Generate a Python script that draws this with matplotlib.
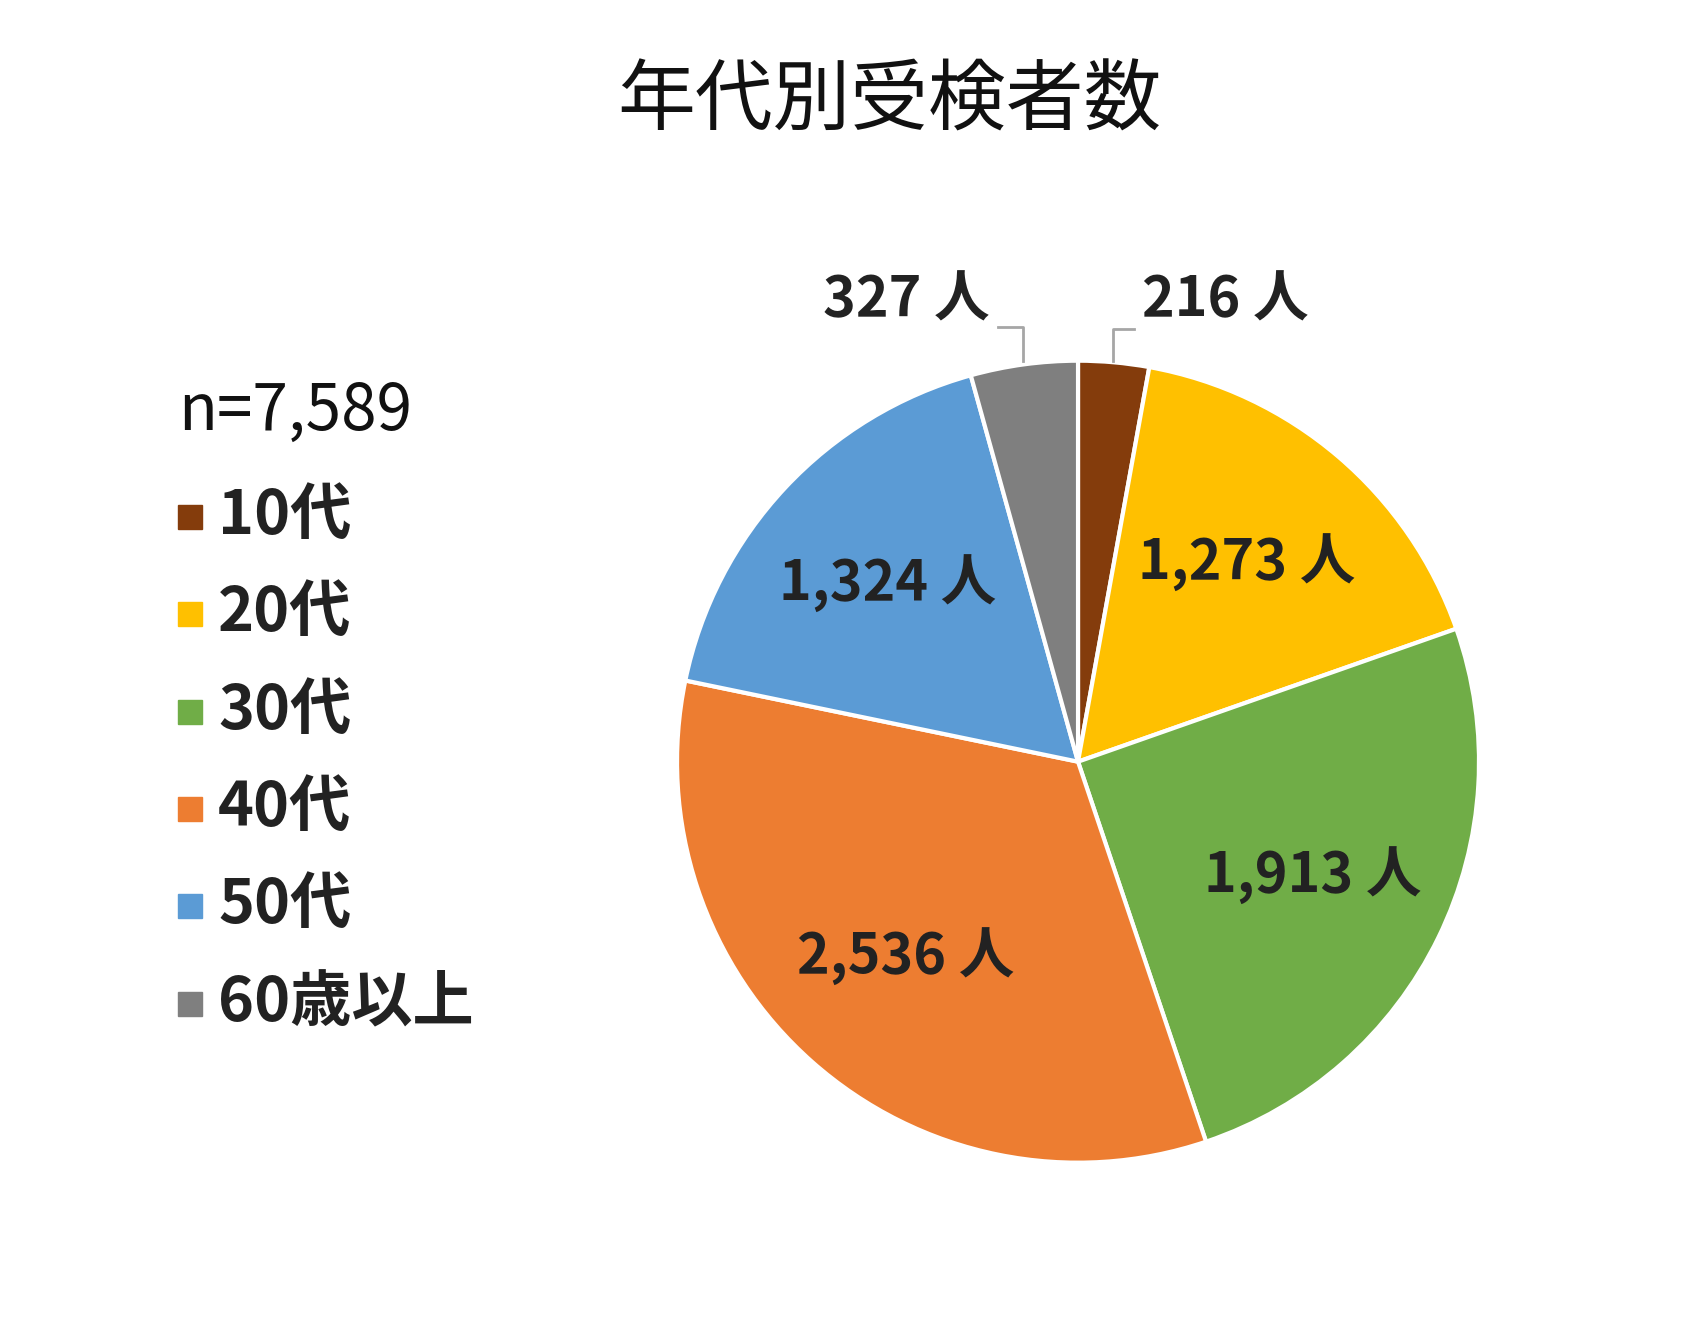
import matplotlib
matplotlib.use("Agg")
import matplotlib.pyplot as plt
import numpy as np
from matplotlib.patches import Rectangle

plt.rcParams['font.family'] = ['Noto Sans CJK JP', 'DejaVu Sans']

categories = ["10代", "20代", "30代", "40代", "50代", "60歳以上"]
values = [216, 1273, 1913, 2536, 1324, 327]
labels = ["216 人", "1,273 人", "1,913 人", "2,536 人", "1,324 人", "327 人"]
colors = ["#843C0C", "#FFC000", "#70AD47", "#ED7D31", "#5B9BD5", "#7F7F7F"]
total_label = "n=7,589"
title = "年代別受検者数"

fig = plt.figure(figsize=(16.95, 13.41), dpi=100)
ax = fig.add_axes([0.636 - 0.2413, 0.432 - 0.305, 0.4826, 0.61])
wedges, _ = ax.pie(values, colors=colors, startangle=90, counterclock=False,
                   wedgeprops=dict(edgecolor="white", linewidth=3))
ax.set_xlim(-1, 1); ax.set_ylim(-1, 1); ax.set_aspect('equal')
ax.axis('off')
ax.set_xlim(-1.02, 1.02); ax.set_ylim(-1.02, 1.02)

# inner labels
cum = np.cumsum([0] + values)
tot = sum(values)
for i, w in enumerate(wedges):
    if i in (0, 5):
        continue
    mid = np.deg2rad(90 - 360 * (cum[i] + values[i] / 2) / tot)
    ax.text(0.65 * np.cos(mid), 0.65 * np.sin(mid), labels[i], ha='center', va='center',
            fontsize=40, fontweight='bold', color='#222222')

# outer labels with leader lines
ax.plot([0.087, 0.087, 0.14], [1.0, 1.08, 1.08], color='#A6A6A6', lw=2, clip_on=False)
ax.text(0.16, 1.15, labels[0], ha='left', va='center', fontsize=40, fontweight='bold', color='#222222')
ax.plot([-0.138, -0.138, -0.2], [1.0, 1.085, 1.085], color='#A6A6A6', lw=2, clip_on=False)
ax.text(-0.22, 1.15, labels[5], ha='right', va='center', fontsize=40, fontweight='bold', color='#222222')

fig.text(889 / 1695, 1 - 103 / 1341, title, ha='center', va='center', fontsize=56, color='#111111')
fig.text(178 / 1695, 1 - 412 / 1341, total_label, ha='left', va='center', fontsize=46, color='#111111')

for i, (c, col) in enumerate(zip(categories, colors)):
    y = 1 - (517 + i * 97.3) / 1341
    fig.patches.append(Rectangle((178 / 1695, y - 12 / 1341), 24 / 1695, 24 / 1341,
                                 transform=fig.transFigure, color=col))
    fig.text(218 / 1695, y, c, ha='left', va='center', fontsize=44, fontweight='bold', color='#222222')

fig.savefig("out.png", dpi=100, facecolor='white')
